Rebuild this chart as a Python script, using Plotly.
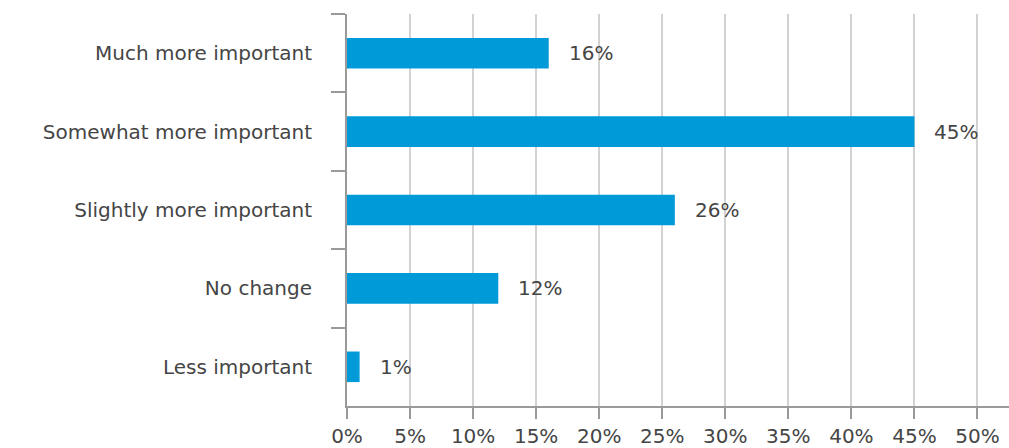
import plotly.graph_objects as go

categories = ["Much more important", "Somewhat more important", "Slightly more important",
              "No change", "Less important"]
values = [16, 45, 26, 12, 1]
tick_values = [0, 5, 10, 15, 20, 25, 30, 35, 40, 45, 50]
tick_labels = [f"{t}%" for t in tick_values]

FONT = "DejaVu Sans"
TEXT = "#454545"
AXIS = "#9a9a9a"
GRID = "#d2d2d2"
BAR = "#009ad9"
SIZE = 20

fig = go.Figure()
fig.add_trace(go.Bar(
    x=values, y=categories, orientation="h",
    marker=dict(color=BAR, line=dict(width=0)),
    hoverinfo="skip",
))

for v, c in zip(values, categories):
    fig.add_annotation(x=v, y=c, text=f"{v}%", showarrow=False,
                       xanchor="left", yanchor="middle", xshift=18,
                       font=dict(family=FONT, size=SIZE, color=TEXT))

fig.update_layout(
    width=1009, height=448,
    margin=dict(l=347, r=0, t=14, b=36),
    paper_bgcolor="white", plot_bgcolor="white",
    bargap=0.61,
    showlegend=False,
    font=dict(family=FONT, size=SIZE, color=TEXT),
)
fig.update_xaxes(
    range=[0, 52.5], tickvals=tick_values, ticktext=tick_labels,
    showgrid=True, gridcolor=GRID, gridwidth=2,
    zeroline=False,
    showline=True, linecolor=AXIS, linewidth=2,
    ticks="outside", ticklen=11, tickcolor=AXIS, tickwidth=2,
    tickfont=dict(family=FONT, size=SIZE, color=TEXT),
    fixedrange=True,
)
fig.update_yaxes(
    categoryorder="array", categoryarray=categories,
    range=[4.5, -0.5],
    showgrid=False, zeroline=False,
    showline=True, linecolor=AXIS, linewidth=2,
    ticks="outside", tickson="boundaries", ticklen=14, tickcolor=AXIS, tickwidth=2,
    ticklabelstandoff=29,
    tickfont=dict(family=FONT, size=SIZE, color=TEXT),
    fixedrange=True,
)

fig.write_html("out.html", config={"displayModeBar": False})
